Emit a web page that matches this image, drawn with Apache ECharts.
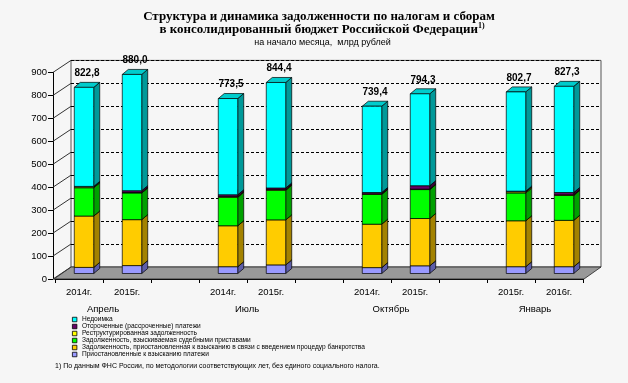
<!DOCTYPE html>
<html><head><meta charset="utf-8">
<script src="https://cdn.jsdelivr.net/npm/echarts@6/dist/echarts.min.js"></script>
<style>html,body{margin:0;padding:0;background:#f6f6f6}#c{width:628px;height:383px}</style>
</head><body><div id="c"></div>
<script>
// ---- data ----
const yearLabels = ['2014г.','2015г.','','2014г.','2015г.','','2014г.','2015г.','','2015г.','2016г.'];
const barSlots = [0,1,3,4,6,7,9,10];
const months = ['Апрель','Июль','Октябрь','Январь'];
const seriesNames = [
  'Приостановленные к взысканию платежи',
  'Задолженность, приостановленная к взысканию в связи с введением процедур банкротства',
  'Задолженность, взыскиваемая судебными приставами',
  'Реструктурированная задолженность',
  'Отсроченные (рассроченные) платежи',
  'Недоимка'
];
const suspended   = [27, 35, 30, 38, 26, 34, 30, 30];
const bankruptcy  = [227, 203, 181, 199, 192, 209, 203, 205];
const bailiffs    = [125, 118, 126, 131, 132, 128, 123, 110];
const restructured= [4, 2, 3, 3, 2, 2, 5, 3];
const deferred    = [2, 8, 8, 7, 6, 15, 3, 10];
const arrears     = [437.8, 514, 425.5, 466.4, 381.4, 406.3, 438.7, 469.3];
const totals      = [822.8, 880.0, 773.5, 844.4, 739.4, 794.3, 802.7, 827.3];
const yMin = 0, yMax = 900, yStep = 100;

const layers = [suspended, bankruptcy, bailiffs, restructured, deferred, arrears];
const faceColors = [
  ['#9999FF','#5E5EA8','#7B7BD6'],
  ['#FFCC00','#A38200','#D9AD00'],
  ['#00FF00','#00A000','#00CC00'],
  ['#FFFF00','#A0A000','#CCCC00'],
  ['#660066','#3D003D','#520052'],
  ['#00FFFF','#009999','#00CCCC']
];
const DX = 6, DY = -5;

const bases = [];
let run = barSlots.map(() => 0);
layers.forEach((arr, k) => { bases.push(run.slice()); run = run.map((v, i) => v + arr[i]); });

const yTicks = [];
for (let v = yMin; v <= yMax; v += yStep) yTicks.push(v);

const fmt = v => v.toFixed(1).replace('.', ',');

function barSeries(k) {
  const isTop = k === layers.length - 1;
  return {
    type: 'custom', name: seriesNames[k], xAxisIndex: 2, yAxisIndex: 2, z: 3,
    itemStyle: { color: faceColors[k][0], borderColor: '#000', borderWidth: 0.6 },
    encode: { x: 0, y: [1, 2] },
    data: barSlots.map((s, i) => [s, bases[k][i], bases[k][i] + layers[k][i], i]),
    renderItem: function (params, api) {
      const s = api.value(0), b = api.value(1), t = api.value(2), idx = api.value(3);
      const p0 = api.coord([s, b]), p1 = api.coord([s, t]);
      const bw = api.size([1, 0])[0] * 0.405;
      const xl = p0[0] - bw / 2, xr = p0[0] + bw / 2, y0 = p0[1], y1 = p1[1];
      const st = { stroke: '#000', lineWidth: 0.7 };
      const children = [
        { type: 'polygon', shape: { points: [[xr, y0], [xr + DX, y0 + DY], [xr + DX, y1 + DY], [xr, y1]] },
          style: Object.assign({ fill: faceColors[k][1] }, st) },
        { type: 'polygon', shape: { points: [[xl, y1], [xr, y1], [xr + DX, y1 + DY], [xl + DX, y1 + DY]] },
          style: Object.assign({ fill: faceColors[k][2] }, st) },
        { type: 'rect', shape: { x: xl, y: y1, width: bw, height: y0 - y1 },
          style: Object.assign({ fill: faceColors[k][0] }, st) }
      ];
      if (isTop) {
        children.push({ type: 'text', x: p0[0] + 3, y: y1 - 9,
          style: { text: fmt(totals[idx]), align: 'center', verticalAlign: 'bottom',
            font: 'bold 10px "Liberation Sans", Arial, sans-serif', fill: '#000' } });
      }
      return { type: 'group', children: children };
    }
  };
}

const chart = echarts.init(document.getElementById('c'), null, { renderer: 'canvas' });
const axisFont = { fontFamily: '"Liberation Sans", Arial, sans-serif', fontSize: 9.5, color: '#000' };

const option = {
  backgroundColor: '#f6f6f6',
  animation: false,
  grid: [
    { left: 71, top: 60.4, width: 530, height: 206.6, show: true, borderColor: '#555', borderWidth: 1, backgroundColor: 'transparent' },
    { left: 53, top: 72.4, width: 18, height: 206.6 },
    { left: 60, top: 69.9, width: 528, height: 203.6 },
    { left: 55, top: 278, width: 528, height: 1 }
  ],
  xAxis: [
    { gridIndex: 0, type: 'value', min: 0, max: 1, show: false },
    { gridIndex: 1, type: 'value', min: 0, max: 1, show: false },
    { gridIndex: 2, type: 'category', data: yearLabels, show: false },
    { gridIndex: 3, type: 'category', data: yearLabels, position: 'bottom',
      axisLine: { lineStyle: { color: '#000', width: 1 } },
      axisTick: { show: true, length: 4, interval: 0, lineStyle: { color: '#000' } },
      axisLabel: Object.assign({ interval: 0, margin: 8 }, axisFont),
      splitLine: { show: false } },
    { gridIndex: 3, type: 'value', min: 0, max: 2 * yearLabels.length, interval: 1, position: 'bottom',
      axisLine: { show: false }, axisTick: { show: false }, splitLine: { show: false },
      axisLabel: Object.assign({ margin: 25, showMinLabel: true, showMaxLabel: true,
        formatter: function (v) {
          for (let i = 0; i < months.length; i++) {
            if (barSlots[2 * i] + barSlots[2 * i + 1] + 1 === v) return months[i];
          }
          return '';
        } }, axisFont) }
  ],
  yAxis: [
    { gridIndex: 0, type: 'value', min: yMin, max: yMax, interval: yStep,
      axisLine: { show: false }, axisTick: { show: false }, axisLabel: { show: false },
      splitLine: { show: true, lineStyle: { color: '#000', width: 1, type: [3, 2] } } },
    { gridIndex: 1, type: 'value', min: yMin, max: yMax, interval: yStep, position: 'left',
      axisLine: { show: true, lineStyle: { color: '#000', width: 1 } },
      axisTick: { show: true, length: 5, lineStyle: { color: '#000' } },
      axisLabel: Object.assign({ margin: 6 }, axisFont),
      splitLine: { show: false } },
    { gridIndex: 2, type: 'value', min: yMin, max: yMax, show: false, splitLine: { show: false } },
    { gridIndex: 3, type: 'value', show: false, splitLine: { show: false } }
  ],
  legend: {
    orient: 'vertical', left: 72, top: 316, padding: 0, itemWidth: 4.5, itemHeight: 4.5, itemGap: 0,
    icon: 'rect', selectedMode: false,
    data: seriesNames.slice().reverse(),
    itemStyle: { borderColor: '#000', borderWidth: 0.8 },
    textStyle: { fontSize: 6.6, lineHeight: 6.6, color: '#000', fontFamily: '"Liberation Sans", Arial, sans-serif' }
  },
  graphic: [
    { type: 'polygon', z: 1, silent: true,
      shape: { points: [[54, 279], [584, 279], [601, 267], [71, 267]] },
      style: { fill: '#999999', stroke: '#222', lineWidth: 0.8 } },
    { type: 'text', x: 319, y: 17, silent: true,
      style: { text: 'Структура и динамика задолженности по налогам и сборам', align: 'center', verticalAlign: 'middle',
        font: 'bold 13px "Liberation Serif", "Times New Roman", serif', fill: '#000' } },
    { type: 'text', x: 322, y: 29.5, silent: true,
      style: { text: '{a|в консолидированный бюджет Российской Федерации}{s|1)}', align: 'center', verticalAlign: 'middle',
        rich: { a: { font: 'bold 13px "Liberation Serif", "Times New Roman", serif', fill: '#000' },
                s: { font: 'bold 8px "Liberation Serif", "Times New Roman", serif', fill: '#000', padding: [0, 0, 7, 0] } } } },
    { type: 'text', x: 322.5, y: 43, silent: true,
      style: { text: 'на начало месяца,  млрд рублей', align: 'center', verticalAlign: 'middle',
        font: '9px "Liberation Sans", Arial, sans-serif', fill: '#000' } },
    { type: 'text', x: 55, y: 366, silent: true,
      style: { text: '1) По данным ФНС России, по методологии соответствующих лет, без единого социального налога.',
        align: 'left', verticalAlign: 'middle', font: '7px "Liberation Sans", Arial, sans-serif', fill: '#000' } }
  ],
  series: [
    { type: 'custom', name: '_sidewall', xAxisIndex: 1, yAxisIndex: 1, z: 2, silent: true,
      data: yTicks.map(v => [0, v]),
      renderItem: function (params, api) {
        const a = api.coord([0, api.value(1)]), b = api.coord([1, api.value(1)]);
        return { type: 'line', shape: { x1: a[0], y1: a[1], x2: b[0], y2: a[1] - 12 },
          style: { stroke: '#333', lineWidth: 1 } };
      } }
  ].concat(layers.map((_, k) => barSeries(k)))
};
chart.setOption(option);
</script>
</body></html>
